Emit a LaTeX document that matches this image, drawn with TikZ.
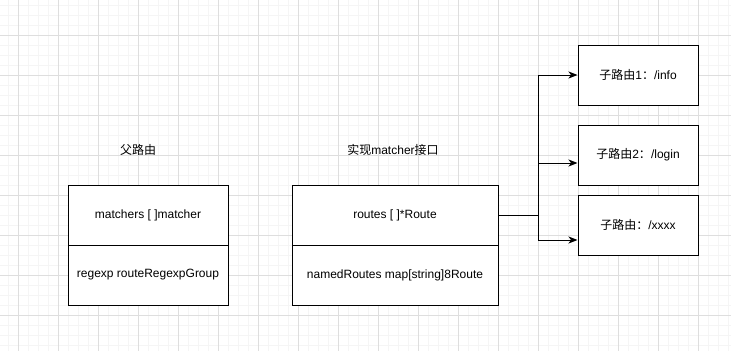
\documentclass[tikz,border=0pt]{standalone}
\usepackage{fontspec}
\setmainfont{Liberation Sans}
\newfontfamily\cjk{Noto Sans CJK SC}
\usetikzlibrary{arrows.meta}
\begin{document}
\begin{tikzpicture}[x=1pt,y=-1pt,
  gridminor/.style={draw=black!4,line width=0.8pt},
  gridmajor/.style={draw=black!13,line width=0.8pt},
  box/.style={draw=black,line width=1pt,fill=white,rectangle,inner sep=0pt,font=\fontsize{12}{14}\selectfont},
  title/.style={font=\fontsize{12}{14}\selectfont,inner sep=0pt},
  conn/.style={draw=black,line width=1pt},
  arr/.style={conn,-{Stealth[length=9pt,width=7pt,inset=2.5pt]}}]
\fill[white] (0,0) rectangle (731,351);
\useasboundingbox (0,0) rectangle (731,351);
\foreach \i in {8,18,...,728} \draw[gridminor] (\i,0) -- (\i,351);
\foreach \i in {5,15,...,345} \draw[gridminor] (0,\i) -- (731,\i);
\foreach \i in {18,58,...,698} \draw[gridmajor] (\i,0) -- (\i,351);
\foreach \i in {35,75,...,315} \draw[gridmajor] (0,\i) -- (731,\i);

\node[title] (t1) at (138,150) {\cjk 父路由};
\node[title] (t2) at (393,150) {{\cjk 实现}matcher{\cjk 接口}};

\node[box,minimum width=160pt,minimum height=60pt] (a1) at (148,215) {matchers [ ]matcher};
\node[box,minimum width=160pt,minimum height=60pt] (a2) at (148,275) {regexp routeRegexpGroup};

\node[box,minimum width=206pt,minimum height=60pt] (m1) at (395,215) {routes [ ]*Route};
\node[box,minimum width=206pt,minimum height=60pt] (m2) at (395,275) {namedRoutes map[string]8Route};

\node[box,minimum width=120pt,minimum height=60pt] (c1) at (638,75) {{\cjk 子路由}1{\cjk ：}/info};
\node[box,minimum width=120pt,minimum height=60pt] (c2) at (638,155) {{\cjk 子路由}2{\cjk ：}/login};
\node[box,minimum width=120pt,minimum height=60pt] (c3) at (638,225) {{\cjk 子路由：}/xxxx};

\coordinate (j) at (538,215);
\draw[conn] (m1.east) -- (j);
\draw[arr] (j) |- (c1.west);
\draw[arr] (j) |- ([yshift=-8pt]c2.west);
\draw[arr] (j) |- ([yshift=-15pt]c3.west);
\end{tikzpicture}
\end{document}
